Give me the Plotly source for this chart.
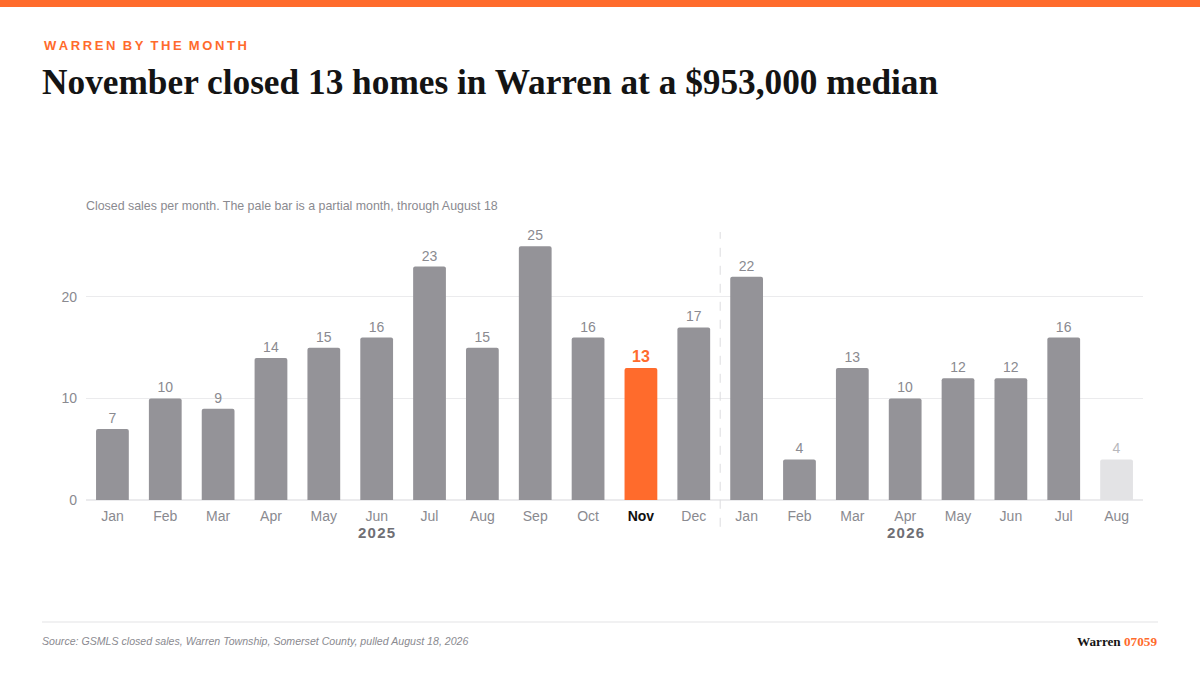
import plotly.graph_objects as go

# Monthly closed sales, Jan 2025 - Aug 2026 (Aug 2026 partial)
months = ["Jan", "Feb", "Mar", "Apr", "May", "Jun", "Jul", "Aug", "Sep", "Oct", "Nov", "Dec",
          "Jan", "Feb", "Mar", "Apr", "May", "Jun", "Jul", "Aug"]
sales = [7, 10, 9, 14, 15, 16, 23, 15, 25, 16, 13, 17,
         22, 4, 13, 10, 12, 12, 16, 4]
years = ["2025", "2026"]
year_pos = [5, 15]
highlight = 10   # Nov 2025
partial = 19     # Aug 2026

GREY = "#949398"
ORANGE = "#ff6b2c"
PALE = "#e3e3e5"
FONT = "Liberation Sans"

x = list(range(len(sales)))
bar_colors = []
label_colors = []
label_sizes = []
labels = []
for i, v in enumerate(sales):
    if i == highlight:
        bar_colors.append(ORANGE)
        label_colors.append(ORANGE)
        label_sizes.append(16)
        labels.append("<b>%d</b>" % v)
    elif i == partial:
        bar_colors.append(PALE)
        label_colors.append("#b8b8bc")
        label_sizes.append(14)
        labels.append(str(v))
    else:
        bar_colors.append(GREY)
        label_colors.append("#8a8a90")
        label_sizes.append(14)
        labels.append(str(v))

ticktext = []
for i, m in enumerate(months):
    if i == highlight:
        ticktext.append("<span style='color:#111111'><b>%s</b></span>" % m)
    else:
        ticktext.append(m)

fig = go.Figure(go.Bar(
    x=x,
    y=sales,
    marker=dict(color=bar_colors, cornerradius=2, line=dict(width=0)),
    text=labels,
    textposition="outside",
    cliponaxis=False,
    textfont=dict(family=FONT, color=label_colors, size=label_sizes),
    hoverinfo="skip",
))

fig.update_layout(
    width=1200,
    height=675,
    paper_bgcolor="white",
    plot_bgcolor="white",
    margin=dict(l=86, r=57, t=232, b=175),
    bargap=0.38,
    showlegend=False,
    font=dict(family=FONT, color="#8a8a90"),
    xaxis=dict(
        range=[-0.5, len(sales) - 0.5],
        tickmode="array",
        tickvals=x,
        ticktext=ticktext,
        tickfont=dict(size=14, color="#8a8a90"),
        showgrid=False,
        zeroline=False,
        showline=False,
        ticks="",
        ticklabelstandoff=6,
    ),
    yaxis=dict(
        range=[0, 26.4],
        tickvals=[0, 10, 20],
        tickfont=dict(size=14, color="#8a8a90"),
        showgrid=True,
        gridcolor="#ebebed",
        gridwidth=1,
        zeroline=True,
        zerolinecolor="#ebebed",
        zerolinewidth=2,
        ticks="",
        ticklabelstandoff=8,
    ),
)

# top accent bar and footer rule
fig.add_shape(type="rect", xref="paper", yref="paper", x0=-0.1, x1=1.1,
              y0=1 + 225 / 268, y1=1 + 240 / 268, fillcolor=ORANGE, line_width=0, layer="above")
fig.add_shape(type="line", xref="paper", yref="paper", x0=-44 / 1057, x1=1072 / 1057,
              y0=-122 / 268, y1=-122 / 268, line=dict(color="#e3e3e5", width=1))

# year divider
fig.add_shape(type="line", xref="x", yref="paper", x0=11.5, x1=11.5, y0=-0.1, y1=1,
              line=dict(color="#dcdcdf", width=1, dash="dash"))

# year labels
for xi, yr in zip(year_pos, years):
    fig.add_annotation(x=xi, xref="x", y=-0.12, yref="paper",
                       text="<b>%s</b>" % "\u200a".join(yr),
                       showarrow=False, yanchor="middle",
                       font=dict(family=FONT, size=15, color="#6f6f74"))

# header texts
kicker = "  ".join("\u2009".join(w) for w in "WARREN BY THE MONTH".split())
fig.add_annotation(x=0, xref="paper", y=0, yref="paper", xshift=-44, yshift=455,
                   text=kicker, showarrow=False,
                   xanchor="left", yanchor="middle",
                   font=dict(family=FONT, size=13, color=ORANGE, weight="bold"))
fig.add_annotation(x=0, xref="paper", y=0, yref="paper", xshift=-46, yshift=418,
                   text="<b>November closed 13 homes in Warren at a $953,000 median</b>",
                   showarrow=False, xanchor="left", yanchor="middle",
                   font=dict(family="Liberation Serif", size=35.3, color="#141414"))
fig.add_annotation(x=0, xref="paper", y=0, yref="paper", xshift=-2, yshift=294,
                   text="Closed sales per month. The pale bar is a partial month, through August 18",
                   showarrow=False, xanchor="left", yanchor="middle",
                   font=dict(family=FONT, size=12.4, color="#8a8a90"))

# footer
fig.add_annotation(x=0, xref="paper", y=0, yref="paper", xshift=-46, yshift=-141,
                   text="<i>Source: GSMLS closed sales, Warren Township, Somerset County, pulled August 18, 2026</i>",
                   showarrow=False, xanchor="left", yanchor="middle",
                   font=dict(family=FONT, size=10.6, color="#8a8a90"))
fig.add_annotation(x=1, xref="paper", y=0, yref="paper", xshift=16, yshift=-141,
                   text="<b>Warren <span style='color:%s'>07059</span></b>" % ORANGE,
                   showarrow=False, xanchor="right", yanchor="middle",
                   font=dict(family="Liberation Serif", size=13.2, color="#141414"))

fig.write_html("out.html", config={"displayModeBar": False},
               post_script="document.body.style.margin='0';")
